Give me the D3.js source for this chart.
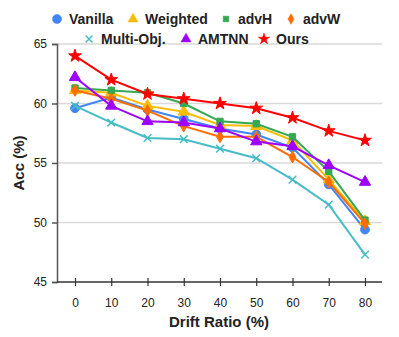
<!DOCTYPE html>
<html lang="en">
<head>
<meta charset="utf-8">
<title>Acc vs Drift Ratio</title>
<script src="https://d3js.org/d3.v7.min.js"></script>
<style>
  body { margin:0; background:#fff; }
  text { font-family: "Liberation Sans", Arial, sans-serif; }
</style>
</head>
<body>
<svg width="399" height="337"></svg>
<script>
var ratios = [0, 10, 20, 30, 40, 50, 60, 70, 80];
var yTicks = [45, 50, 55, 60, 65];
var names = ["Vanilla", "Weighted", "advH", "advW", "Multi-Obj.", "AMTNN", "Ours"];
var colors = ["#4285f4", "#fbbc04", "#34a853", "#ff6d01", "#46bdc6", "#9d00ff", "#ff0000"];
var shapes = ["circle", "triangle", "square", "diamond", "cross", "triangle", "star"];

var vanilla  = [59.6, 60.5, 59.5, 58.7, 57.9, 57.4, 56.3, 53.2, 49.4];
var weighted = [61.1, 60.9, 59.8, 59.3, 58.2, 58.1, 56.9, 53.6, 50.1];
var advH     = [61.3, 61.1, 60.9, 60.0, 58.5, 58.3, 57.2, 54.3, 50.2];
var advW     = [61.1, 60.4, 59.4, 58.1, 57.2, 57.2, 55.5, 53.4, 49.9];
var multiObj = [59.8, 58.4, 57.1, 57.0, 56.2, 55.4, 53.6, 51.5, 47.3];
var amtnn    = [62.2, 59.8, 58.5, 58.4, 57.9, 56.8, 56.4, 54.8, 53.4];
var ours     = [64.0, 62.0, 60.8, 60.4, 60.0, 59.6, 58.8, 57.7, 56.9];
var series = [vanilla, weighted, advH, advW, multiObj, amtnn, ours];

var svg = d3.select("svg");
var plotL = 57, plotR = 382, plotT = 44, plotB = 282;

var x = d3.scalePoint().domain(ratios).range([75, 365]);
var y = d3.scaleLinear().domain([45, 65]).range([plotB, plotT]);

// gridlines
svg.append("g").selectAll("line").data(yTicks.slice(1)).enter().append("line")
  .attr("x1", plotL).attr("x2", plotR)
  .attr("y1", function(d){ return y(d); }).attr("y2", function(d){ return y(d); })
  .attr("stroke", "#d9d9d9").attr("stroke-width", 1.5);

// y axis
var yAxis = svg.append("g").attr("transform", "translate(" + plotL + ",0)")
  .call(d3.axisLeft(y).tickValues(yTicks).tickSize(5).tickPadding(5));
yAxis.select(".domain").attr("stroke", "#555").attr("stroke-width", 1.5);
yAxis.selectAll(".tick line").attr("stroke", "#555").attr("stroke-width", 1.5);
yAxis.selectAll("text").attr("font-size", 12).attr("fill", "#222")
  .style("font-family", "'Liberation Sans', Arial, sans-serif");

// x axis
svg.append("line").attr("x1", plotL).attr("x2", plotR).attr("y1", plotB).attr("y2", plotB)
  .attr("stroke", "#333").attr("stroke-width", 1.5);
var xAxis = svg.append("g").attr("transform", "translate(0," + plotB + ")")
  .call(d3.axisBottom(x).tickSizeInner(4).tickSizeOuter(0).tickPadding(12));
xAxis.select(".domain").remove();
xAxis.selectAll(".tick line").attr("y1", -4).attr("y2", 4).attr("stroke", "#333").attr("stroke-width", 1.2);
xAxis.selectAll("text").attr("font-size", 12).attr("fill", "#222")
  .style("font-family", "'Liberation Sans', Arial, sans-serif");

// axis titles
svg.append("text").attr("x", 219).attr("y", 327).attr("text-anchor", "middle")
  .attr("font-size", 15).attr("font-weight", "bold").attr("fill", "#222").text("Drift Ratio (%)");
svg.append("text").attr("transform", "translate(24,163) rotate(-90)").attr("text-anchor", "middle")
  .attr("font-size", 15).attr("font-weight", "bold").attr("fill", "#222").text("Acc (%)");

function symbolFor(s, big) {
  var t = {circle: d3.symbolCircle, triangle: d3.symbolTriangle, square: d3.symbolSquare,
           diamond: d3.symbolDiamond, cross: d3.symbolTimes, star: d3.symbolStar}[s];
  var size = {circle: 60, triangle: 55, square: 40, diamond: 40, cross: 40, star: 50}[s];
  return d3.symbol().type(t).size(size * (big || 1))();
}

var line = d3.line().x(function(d, i){ return x(ratios[i]); }).y(function(d){ return y(d); });

series.forEach(function(vals, k) {
  var g = svg.append("g");
  g.append("path").datum(vals).attr("d", line).attr("fill", "none")
    .attr("stroke", colors[k]).attr("stroke-width", 2);
  g.selectAll("path.m").data(vals).enter().append("path").attr("class", "m")
    .attr("transform", function(d, i){ return "translate(" + x(ratios[i]) + "," + y(d) + ")"; })
    .attr("d", symbolFor(shapes[k]))
    .attr("fill", shapes[k] === "cross" ? "none" : colors[k])
    .attr("stroke", colors[k]).attr("stroke-width", shapes[k] === "cross" ? 1.5 : 1);
});

// legend
var legendPos = [[57, 19], [133, 19], [226, 19], [291, 19], [89, 39], [186, 39], [264, 39]];
names.forEach(function(n, k) {
  var p = legendPos[k];
  svg.append("path").attr("transform", "translate(" + p[0] + "," + p[1] + ")")
    .attr("d", symbolFor(shapes[k], shapes[k] === "circle" ? 1.1 : 0.8))
    .attr("fill", shapes[k] === "cross" ? "none" : colors[k])
    .attr("stroke", colors[k]).attr("stroke-width", shapes[k] === "cross" ? 1.5 : 0.5);
  svg.append("text").attr("x", p[0] + 12).attr("y", p[1] + 5)
    .attr("font-size", 14).attr("font-weight", "bold").attr("fill", "#222").text(n);
});
</script>
</body>
</html>
